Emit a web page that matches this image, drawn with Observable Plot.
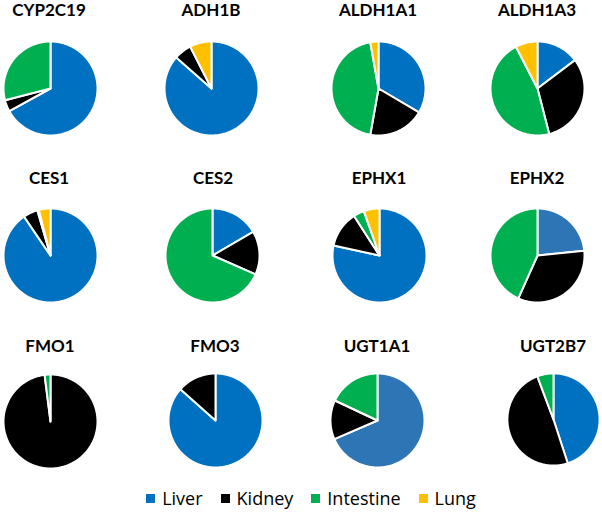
<!DOCTYPE html>
<html><head><meta charset="utf-8">
<script src="https://cdn.jsdelivr.net/npm/d3@7"></script>
<script src="https://cdn.jsdelivr.net/npm/@observablehq/plot@0.6"></script>
<style>
body{margin:0;background:#fff;}
#wrap{position:relative;width:602px;height:512px;overflow:hidden;font-family:Lato,sans-serif;background:#fff;}
.pie{position:absolute;}
.pie svg{display:block;}
.ttl{position:absolute;width:160px;text-align:center;font-family:Lato,sans-serif;font-weight:bold;font-size:17px;line-height:20px;color:#000;white-space:nowrap;}
#legend{position:absolute;left:10px;top:486px;width:602px;display:flex;justify-content:center;}
#legend .lg-swatches{font-family:"Open Sans",sans-serif !important;font-size:18px !important;line-height:normal !important;color:#000 !important;margin:0 !important;min-height:0 !important;}
#legend .lg-swatch{margin-right:18px !important;}
#legend .lg-swatch:last-child{margin-right:0 !important;}
#legend .lg-swatch svg{margin-right:7px !important;}
</style></head><body><div id="wrap"></div>
<script>
// ---- data ----
const genes = ["CYP2C19","ADH1B","ALDH1A1","ALDH1A3","CES1","CES2","EPHX1","EPHX2","FMO1","FMO3","UGT1A1","UGT2B7"];
const organs = ["Liver","Kidney","Intestine","Lung"];
const liver     = [67.0, 86.5, 33.5, 14.7, 90.5, 16.6, 78.4, 23.4,  0.0, 86.6, 68.5, 45.0];
const kidney    = [ 4.0,  6.0, 19.3, 31.3,  5.0, 15.0, 12.5, 33.3, 98.0, 13.4, 13.5, 49.3];
const intestine = [29.0,  0.0, 44.4, 46.4,  0.5, 68.4,  3.7, 43.3,  2.0,  0.0, 18.0,  5.7];
const lung      = [ 0.0,  7.5,  2.8,  7.6,  4.0,  0.0,  5.4,  0.0,  0.0,  0.0,  0.0,  0.0];

// ---- styles / layout ----
const organColors = ["#0070C0","#000000","#00B050","#FFC000"];
const mutedLiver = ["EPHX2","UGT1A1"];
const mutedLiverColor = "#2E75B6";
const pieCenters = [[50,88],[211,88],[378,88],[537,88],[50,255],[212,255],[379,255],[537,255],[50,421],[215,420],[377,420],[554,420]];
const titleCenters = [[49,16],[211,16],[378,16],[537,16],[49,184],[213,184],[379,184],[537,184],[50,352],[215,352],[377,352],[553,352]];
const R = 47, M = 3;

const wrap = document.getElementById("wrap");
const colorDomain = [...organs, "Liver (alt)"];
const colorRange = [...organColors, mutedLiverColor];

function sliceRows(i){
  const vals = [liver[i], kidney[i], intestine[i], lung[i]];
  const total = d3.sum(vals);
  let a0 = 0; const rows = [];
  vals.forEach((v,k) => {
    if (!(v > 0)) return;
    const a1 = a0 + v / total * 2 * Math.PI;
    const key = (k === 0 && mutedLiver.includes(genes[i])) ? "Liver (alt)" : organs[k];
    const id = organs[k];
    rows.push({id, key, x: 0, y: 0});
    const n = Math.max(2, Math.ceil((a1 - a0) / (Math.PI / 180)));
    for (let j = 0; j <= n; j++) {
      const a = a0 + (a1 - a0) * j / n;
      rows.push({id, key, x: Math.sin(a), y: Math.cos(a)});
    }
    rows.push({id, key, x: 0, y: 0});
    a0 = a1;
  });
  return rows;
}

genes.forEach((g, i) => {
  const size = 2 * (R + M);
  const chart = Plot.plot({
    width: size, height: size, margin: M,
    x: {domain: [-1, 1], axis: null},
    y: {domain: [-1, 1], axis: null},
    color: {domain: colorDomain, range: colorRange},
    marks: [
      Plot.line(sliceRows(i), {x: "x", y: "y", z: "id", fill: "key", stroke: "white", strokeWidth: 2, strokeLinejoin: "round"})
    ]
  });
  const d = document.createElement("div");
  d.className = "pie";
  d.style.left = (pieCenters[i][0] - size / 2) + "px";
  d.style.top = (pieCenters[i][1] - size / 2) + "px";
  d.appendChild(chart);
  wrap.appendChild(d);

  const t = document.createElement("div");
  t.className = "ttl";
  t.textContent = g;
  t.style.left = (titleCenters[i][0] - 80) + "px";
  t.style.top = (titleCenters[i][1] - 16) + "px";
  wrap.appendChild(t);
});

const lgWrap = document.createElement("div");
lgWrap.id = "legend";
lgWrap.appendChild(Plot.legend({
  color: {domain: organs, range: organColors},
  legend: "swatches", swatchSize: 9, className: "lg"
}));
wrap.appendChild(lgWrap);
</script></body></html>
